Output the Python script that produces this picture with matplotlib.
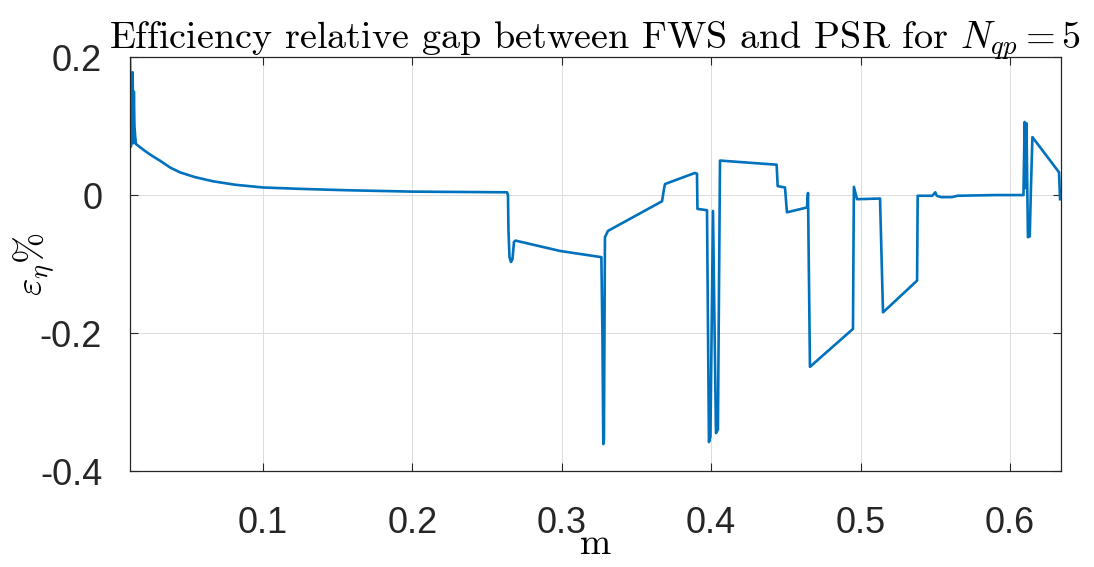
import matplotlib
matplotlib.use("Agg")
import matplotlib.pyplot as plt

plt.rcParams['mathtext.fontset'] = 'cm'
plt.rcParams['axes.unicode_minus'] = False

# m values and relative efficiency gap (%)
m = [0.0110, 0.0113, 0.0116, 0.0120, 0.0124, 0.0128, 0.0132, 0.0136, 0.0140, 0.0145,
     0.0150, 0.0210, 0.0257, 0.0310, 0.0378, 0.0444, 0.0545, 0.0665, 0.0813, 0.1000,
     0.1248, 0.1560, 0.2000, 0.2320, 0.2633,
     0.2640, 0.2643, 0.2650, 0.2660, 0.2670, 0.2680, 0.2690, 0.2988, 0.3265,
     0.3272, 0.3278, 0.3282, 0.3289, 0.3309, 0.3671, 0.3685, 0.3691, 0.3890,
     0.3905, 0.3908, 0.3972, 0.3985, 0.3995, 0.4012, 0.4032, 0.4045, 0.4059,
     0.4438, 0.4445, 0.4494, 0.4507, 0.4641, 0.4648, 0.4661, 0.4949, 0.4955,
     0.4976, 0.5130, 0.5150, 0.5378, 0.5382, 0.5480, 0.5500, 0.5510, 0.5540,
     0.5610, 0.5650, 0.5900, 0.6090, 0.6098, 0.6105, 0.6110, 0.6120, 0.6132,
     0.6140, 0.6150, 0.6328, 0.6335]
gap = [0.200, 0.160, 0.070, 0.175, 0.090, 0.178, 0.075, 0.150, 0.100, 0.085,
       0.074, 0.064, 0.057, 0.050, 0.040, 0.033, 0.026, 0.020, 0.015, 0.011,
       0.009, 0.007, 0.005, 0.0045, 0.004,
       0.000, -0.050, -0.090, -0.097, -0.093, -0.068, -0.066, -0.081, -0.090,
       -0.200, -0.361, -0.355, -0.061, -0.052, -0.009, 0.010, 0.016, 0.032,
       0.031, -0.020, -0.022, -0.358, -0.350, -0.023, -0.345, -0.340, 0.050,
       0.044, 0.013, 0.011, -0.025, -0.018, 0.003, -0.249, -0.194, 0.012,
       -0.006, -0.005, -0.170, -0.124, -0.001, -0.001, 0.004, -0.001, -0.003,
       -0.003, -0.001, 0.000, 0.000, 0.106, 0.010, 0.104, -0.061, -0.060,
       0.010, 0.084, 0.033, -0.006]

x_ticks = [0.1, 0.2, 0.3, 0.4, 0.5, 0.6]
x_labels = ['0.1', '0.2', '0.3', '0.4', '0.5', '0.6']
y_ticks = [-0.4, -0.2, 0, 0.2]
y_labels = ['-0.4', '-0.2', '0', '0.2']

fig = plt.figure(figsize=(10.94, 5.67), dpi=100)
ax = fig.add_axes([0.1188, 0.1693, 0.851, 0.730])

ax.plot(m, gap, color='#0072BD', linewidth=1.9)

ax.set_xlim(0.011, 0.6341)
ax.set_ylim(-0.4, 0.2)
ax.set_xticks(x_ticks)
ax.set_xticklabels(x_labels, fontfamily='Liberation Sans', fontsize=26, color='#262626')
ax.set_yticks(y_ticks)
ax.set_yticklabels(y_labels, fontfamily='Liberation Sans', fontsize=26, color='#262626')
ax.tick_params(direction='in', length=6, width=0.8, top=True, right=True,
               color='#262626')
ax.tick_params(axis='x', pad=25)
ax.tick_params(axis='y', pad=20)
ax.grid(True, color='#dcdcdc', linewidth=0.7)
for s in ax.spines.values():
    s.set_color('#262626')
    s.set_linewidth(0.9)

ax.set_title(r'Efficiency relative gap between FWS and PSR for $N_{qp} = 5$',
             fontfamily='cmr10', fontsize=27.5, pad=6)
ax.set_xlabel('m', fontfamily='cmr10', fontsize=27, labelpad=-9)
ax.set_ylabel(r'$\varepsilon_\eta\%$', fontsize=27, labelpad=-12)

fig.savefig('out.png', dpi=100)
